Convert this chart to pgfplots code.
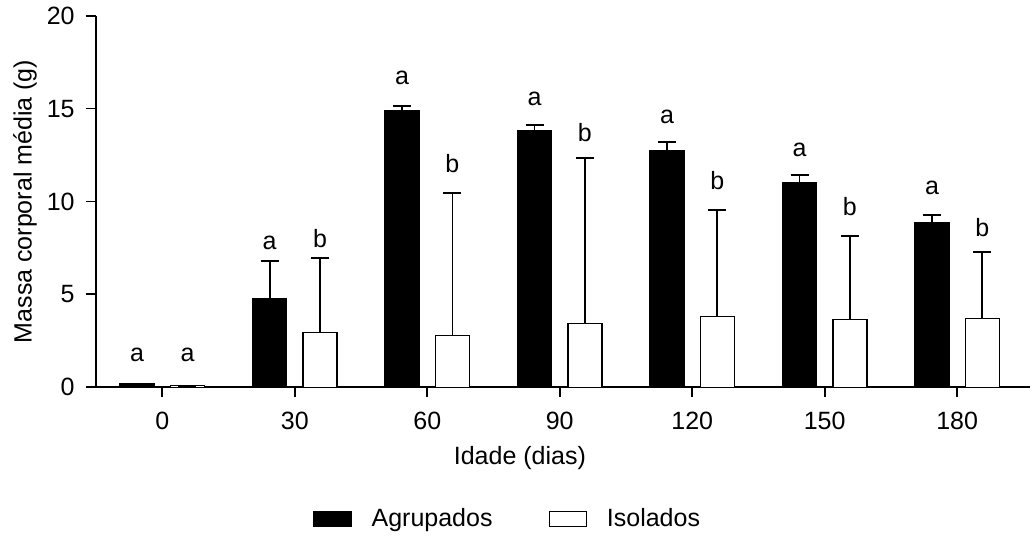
\documentclass[border=0pt]{standalone}
\usepackage{fontspec}
\setmainfont{Liberation Sans}
\usepackage{pgfplots}
\usepackage{pgfplotstable}
\pgfplotsset{compat=1.18}

% Mean body mass per age; agr = grouped, iso = isolated, *err = upper SD,
% *lab = height of the significance letter above each bar
\pgfplotstableread{
x agr   agrerr iso  isoerr agrlab isolab la lb
0 0.18  0.00   0.08 0.00   1.38   1.38   a  a
1 4.75  2.05   2.94 4.00   7.44   7.50   a  b
2 14.87 0.25   2.80 7.67   16.32  11.54  a  b
3 13.79 0.33   3.44 8.88   15.19  13.22  a  b
4 12.75 0.44   3.80 5.76   14.21  10.62  a  b
5 11.03 0.40   3.66 4.47   12.41  9.27   a  b
6 8.86  0.41   3.71 3.59   10.35  8.14   a  b
}\massa

\newcommand{\lblfont}{\fontsize{12.5}{15}\selectfont}
\pgfplotsset{
  box legend/.style={
    legend image code/.code={\draw[##1] (0pt,-3.75pt) rectangle (18.5pt,3.75pt);}},
  letters/.style={draw=none, fill=none, forget plot, nodes near coords,
    point meta=explicit symbolic,
    nodes near coords style={anchor=base, inner sep=0pt, font=\lblfont}},
}

\begin{document}
\begin{tikzpicture}
\begin{axis}[
  name=ax,
  ybar,
  scale only axis,
  width=467.2pt, height=185.8pt,
  xmin=-0.503, xmax=6.55,
  ymin=0, ymax=20,
  axis lines*=left,
  axis line style={line width=0.9pt},
  tick align=outside,
  major tick length=5pt,
  every tick/.style={black, line width=0.9pt},
  xtick={0,1,2,3,4,5,6},
  xticklabels={0,30,60,90,120,150,180},
  ytick={0,5,10,15,20},
  /pgf/number format/assume math mode=true,
  tick label style={font=\lblfont},
  xticklabel style={yshift=-4pt},
  yticklabel style={xshift=-2pt},
  label style={font=\lblfont},
  xlabel={Idade (dias)},
  ylabel={Massa corporal média (g)},
  xlabel style={at={(axis description cs:0.454,-0.190)}, anchor=center},
  ylabel style={at={(axis description cs:-0.0756,0.5)}, anchor=center},
  clip=false,
  legend columns=2,
  legend style={draw=none, fill=none, font=\lblfont,
    at={(0.442,-0.354)}, anchor=center,
    /tikz/every odd column/.append style={column sep=8pt},
    /tikz/every even column/.append style={column sep=26pt}},
  error bars/error bar style={line width=0.9pt},
  error bars/error mark options={rotate=90, mark size=4.5pt, line width=0.9pt},
]
\addplot[bar width=0.257, bar shift=-0.19, fill=black, draw=black,
  line width=0.7pt, box legend,
  error bars/.cd, y dir=plus, y explicit]
  table[x=x, y=agr, y error=agrerr] {\massa};
\addlegendentry{Agrupados}
\addplot[bar width=0.257, bar shift=0.19, fill=white, draw=black,
  line width=0.7pt, box legend,
  error bars/.cd, y dir=plus, y explicit]
  table[x=x, y=iso, y error=isoerr] {\massa};
\addlegendentry{Isolados}

% significance letters
\addplot[letters, bar width=0.257, bar shift=-0.19]
  table[x=x, y=agrlab, meta=la] {\massa};
\addplot[letters, bar width=0.257, bar shift=0.19]
  table[x=x, y=isolab, meta=lb] {\massa};
\end{axis}
\path ([xshift=-47.85pt,yshift=-74.85pt]ax.south west)
  rectangle ([xshift=2pt,yshift=7.85pt]ax.north east);
\end{tikzpicture}
\end{document}
